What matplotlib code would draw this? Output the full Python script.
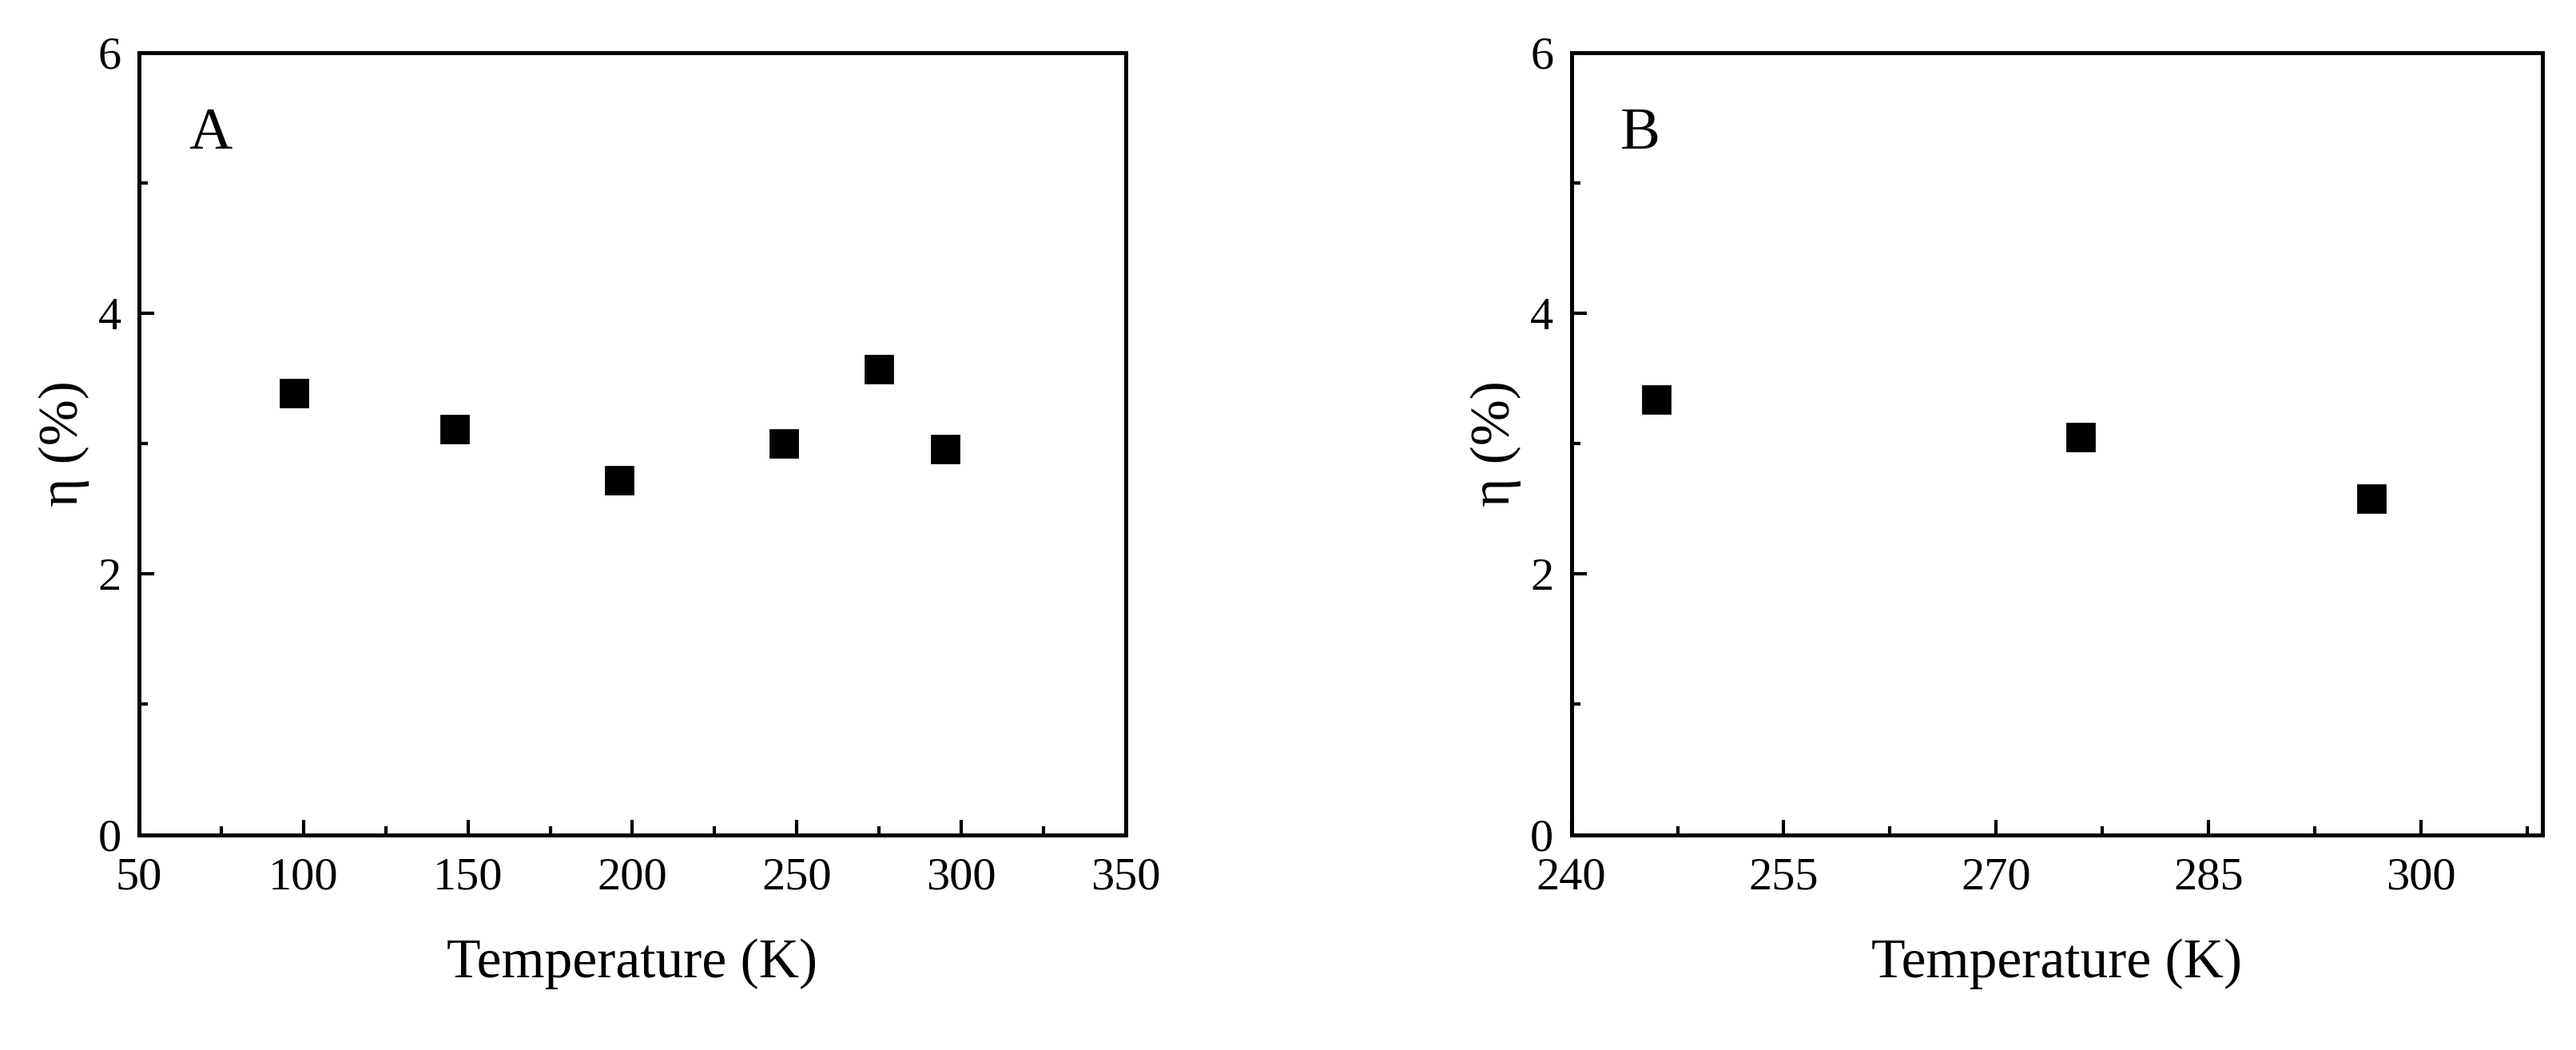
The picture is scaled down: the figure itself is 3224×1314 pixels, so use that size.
import matplotlib.pyplot as plt
import matplotlib as mpl
from matplotlib.ticker import MultipleLocator

# Panel A
temp_a = [97, 146, 196, 246, 275, 295]
eta_a = [3.39, 3.11, 2.72, 3.00, 3.57, 2.96]
# Panel B
temp_b = [246, 276, 296.5]
eta_b = [3.34, 3.05, 2.58]

mpl.rcParams.update({
    "font.family": "Liberation Serif",
    "font.size": 21,
})

fig = plt.figure(figsize=(16.12, 6.57), dpi=200)
axA = fig.add_axes([0.054, 0.205, 0.383, 0.745])
axB = fig.add_axes([0.610, 0.205, 0.377, 0.745])

for ax, x, y, lab in [(axA, temp_a, eta_a, "A"), (axB, temp_b, eta_b, "B")]:
    ax.plot(x, y, "s", color="black", markersize=12)
    ax.set_ylim(0, 6)
    ax.yaxis.set_major_locator(MultipleLocator(2))
    ax.yaxis.set_minor_locator(MultipleLocator(1))
    ax.tick_params(which="both", direction="in", width=1.5)
    ax.tick_params(which="major", length=7, labelsize=21)
    ax.tick_params(which="minor", length=4)
    ax.tick_params(axis="x", which="major", pad=10)
    ax.tick_params(axis="y", which="major", pad=8)
    for s in ax.spines.values():
        s.set_linewidth(1.8)
    ax.set_xlabel("Temperature (K)", fontsize=25, labelpad=18)
    ax.set_ylabel("η (%)", fontsize=25)
    ax.text(0.05, 0.93, lab, transform=ax.transAxes, fontsize=27, va="top")

axA.set_xlim(50, 350)
axA.xaxis.set_major_locator(MultipleLocator(50))
axA.xaxis.set_minor_locator(MultipleLocator(25))
axB.set_xlim(240, 308.6)
axB.xaxis.set_major_locator(MultipleLocator(15))
axB.xaxis.set_minor_locator(MultipleLocator(7.5))

fig.savefig("out.png", dpi=200, facecolor="white")
